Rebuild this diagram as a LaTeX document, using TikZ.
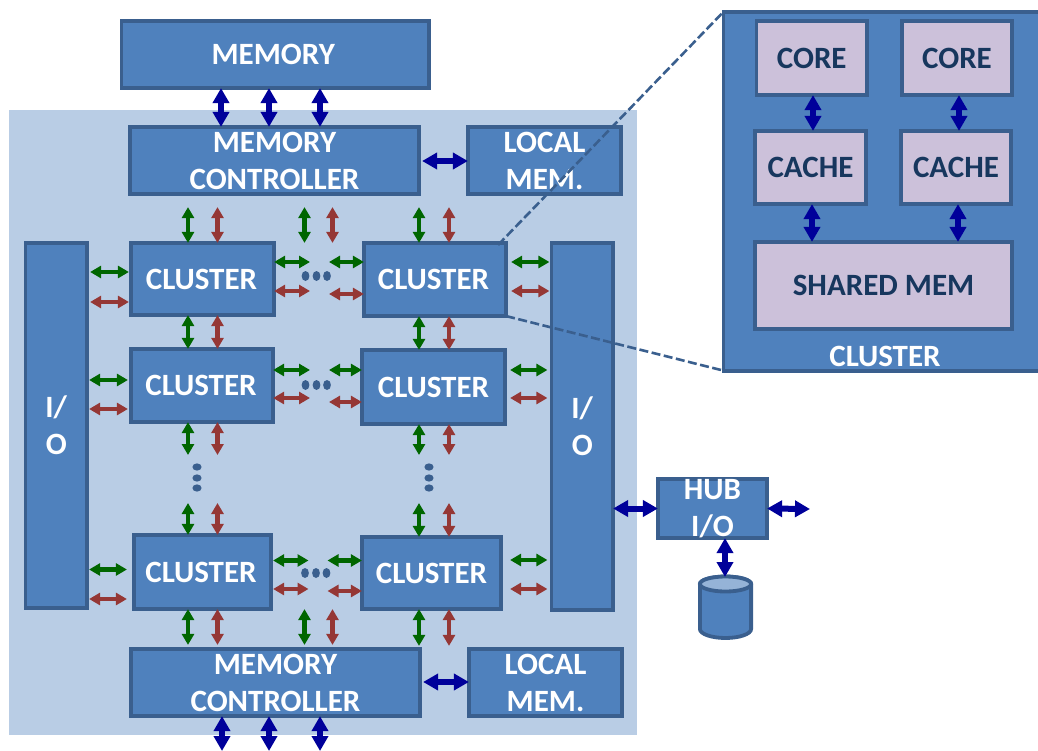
\documentclass[tikz,border=0pt]{standalone}
\usepackage{fontspec}
\setmainfont{Carlito}
\usetikzlibrary{arrows.meta}
\definecolor{boxfill}{HTML}{4F81BD}
\definecolor{boxline}{HTML}{3A5F8E}
\definecolor{panelbg}{HTML}{B9CDE5}
\definecolor{corefill}{HTML}{CCC1DA}
\definecolor{coretext}{HTML}{17375E}
\definecolor{arrblue}{HTML}{00009A}
\definecolor{arrgreen}{HTML}{006600}
\definecolor{arrred}{HTML}{953735}
\definecolor{disktop}{HTML}{95B3D7}
\newcommand{\bx}[6][plainbox]{%
  \pgfmathsetmacro{\cxx}{(#3+#5)/2}\pgfmathsetmacro{\cyy}{(#4+#6)/2}%
  \pgfmathsetmacro{\ww}{#5-#3-3.8}\pgfmathsetmacro{\hh}{#6-#4-3.8}%
  \node[#1,minimum width=\ww pt,minimum height=\hh pt] (#2) at (\cxx,\cyy) {\boxtext};}
\newcommand{\rowdots}[2]{\foreach \dx in {-11,0,10.5}{\fill[boxline] ({#1+\dx},#2) ellipse [x radius=3.9,y radius=5];}}
\newcommand{\coldots}[2]{\foreach \dy in {-11,0,10}{\fill[boxline] (#1,{#2+\dy}) ellipse [x radius=4.6,y radius=3.6];}}
\tikzset{
  plainbox/.style={rectangle,draw=boxline,fill=boxfill,line width=3.8pt,outer sep=0pt,inner sep=0pt,
    text=white,font=\fontsize{31}{37}\selectfont\bfseries,align=center},
  corebox/.style={plainbox,fill=corefill,text=coretext},
  bl/.style={{Triangle[width=16pt,length=15pt]}-{Triangle[width=16pt,length=15pt]},draw=arrblue,fill=arrblue,line width=6pt},
  gr/.style={{Triangle[width=12pt,length=11pt]}-{Triangle[width=12pt,length=11pt]},draw=arrgreen,fill=arrgreen,line width=4.5pt},
  rd/.style={{Triangle[width=12pt,length=11pt]}-{Triangle[width=12pt,length=11pt]},draw=arrred,fill=arrred,line width=4.5pt},
  zoomline/.style={draw=boxline,line width=2.6pt,dash pattern=on 9pt off 3.5pt},
  gapnode/.style={rectangle,inner sep=0pt,outer sep=0pt,minimum width=19pt,minimum height=40pt},
  vgap/.style={rectangle,inner sep=0pt,outer sep=0pt,minimum width=30pt,minimum height=48pt}
}
\begin{document}
\begin{tikzpicture}[x=1pt,y=-1pt]
\useasboundingbox (0,0) rectangle (1038,751);
\clip (0,0) rectangle (1038,751);
\node[rectangle,fill=panelbg,inner sep=0pt,outer sep=0pt,minimum width=628pt,minimum height=625pt] (bg) at (323,422.5) {};
% main boxes
\def\boxtext{\hspace*{-4pt}MEMORY}\bx{mem}{119.5}{19}{431}{90}
\def\boxtext{MEMORY\\CONTROLLER}\bx{mca}{128}{125}{421}{196}
\def\boxtext{LOCAL\\MEM.}\bx{lma}{466}{125}{623}{196}
\def\boxtext{MEMORY\\CONTROLLER}\bx{mcb}{129}{647}{422}{718}
\def\boxtext{LOCAL\\MEM.}\bx{lmb}{467}{647}{624}{718}
\def\boxtext{I/\\O}\bx{iol}{23.5}{241}{89}{610}
\def\boxtext{I/\\O}\bx{ior}{549.5}{241}{615}{612}
\def\boxtext{\hspace*{-2pt}CLUSTER}
\bx{caa}{129}{241}{276}{317}
\bx{cba}{129}{347}{275}{424}
\def\boxtext{\hspace*{-3pt}CLUSTER}
\bx{cab}{362}{241}{508}{318}
\bx{cca}{132}{533}{273}{611}
\def\boxtext{CLUSTER}
\bx{cbb}{360}{348}{507}{426}
\bx{ccb}{360}{535}{503}{611}
\def\boxtext{HUB\\I/O}\bx{hub}{656}{477}{769}{540}
% storage cylinder
\fill[boxfill,draw=boxline,line width=3.8pt] (699.9,584) -- (699.9,629) arc [start angle=180,end angle=360,x radius=25.6pt,y radius=9pt] -- (751.1,584) arc [start angle=0,end angle=180,x radius=25.6pt,y radius=7.5pt] -- cycle;
\fill[disktop,draw=boxline,line width=3.8pt] (725.5,584) ellipse [x radius=25.6pt,y radius=7.5pt];
\coordinate (disk) at (725,577);
% zoomed cluster
\def\boxtext{}\bx{zoom}{721.5}{10}{1045}{372.5}
\node[text=white,font=\fontsize{31}{37}\selectfont\bfseries] (zlabel) at (885,356) {CLUSTER};
\def\boxtext{CORE}
\bx[corebox]{coa}{754.5}{19}{869}{97}
\bx[corebox]{cob}{900}{19}{1014}{97}
\def\boxtext{CACHE}
\bx[corebox]{cha}{753}{129}{868}{206}
\bx[corebox]{chb}{899}{129}{1013}{206}
\def\boxtext{SHARED MEM}
\bx[corebox]{shm}{753}{240}{1014}{331}
% free ends
\node[gapnode] (gapa) at (319.5,276) {};
\node[gapnode] (gapb) at (319.5,385) {};
\node[gapnode] (gapc) at (318,574) {};
\node[vgap] (vgapl) at (197,479) {};
\node[vgap] (vgapr) at (429,479) {};
\coordinate (hubout) at (810,509);
\coordinate (botA) at (222,751);
\coordinate (botB) at (269,751);
\coordinate (botC) at (320,751);
\rowdots{316.5}{276}
\rowdots{316.5}{385}
\rowdots{316}{573}
\coldots{197}{478}
\coldots{429}{478}
% blue connectors
\foreach \X in {221,269,320}{\draw[bl] (\X,0 |- mem.south) -- (\X,0 |- mca.north);}
\draw[bl,shorten <=3pt] (mca.east |- 0,161) -- (lma.west |- 0,161);
\draw[bl,shorten <=3pt] (mcb.east |- 0,682) -- (lmb.west |- 0,682);
\draw[bl] (222,0 |- mcb.south) -- (botA);
\draw[bl] (269,0 |- mcb.south) -- (botB);
\draw[bl] (320,0 |- mcb.south) -- (botC);
\draw[bl] (ior.east |- hub.west) -- (hub.west);
\draw[bl] (hub.east) -- (hubout);
\draw[bl] (725,0 |- hub.south) -- (disk);
\draw[bl] (813,0 |- coa.south) -- (813,0 |- cha.north);
\draw[bl] (959,0 |- cob.south) -- (959,0 |- chb.north);
\draw[bl] (812,0 |- cha.south) -- (812,0 |- shm.north);
\draw[bl] (958,0 |- chb.south) -- (958,0 |- shm.north);
% vertical green / red
\foreach \X/\S in {188/gr,217.5/rd}{
  \draw[\S,shorten <=13pt] (\X,0 |- mca.south) -- (\X,0 |- caa.north);
  \draw[\S] (\X,0 |- caa.south) -- (\X,0 |- cba.north);
  \draw[\S] (\X,0 |- cba.south) -- (\X,0 |- vgapl.north);
  \draw[\S] (\X,0 |- vgapl.south) -- (\X,0 |- cca.north);
  \draw[\S,shorten >=4pt] (\X,0 |- cca.south) -- (\X,0 |- mcb.north);
}
\foreach \X/\S in {419/gr,449/rd}{
  \draw[\S,shorten <=13pt] (\X,0 |- mca.south) -- (\X,0 |- cab.north);
  \draw[\S] (\X,0 |- cab.south) -- (\X,0 |- cbb.north);
  \draw[\S] (\X,0 |- cbb.south) -- (\X,0 |- vgapr.north);
  \draw[\S] (\X,0 |- vgapr.south) -- (\X,0 |- ccb.north);
  \draw[\S,shorten >=3pt] (\X,0 |- ccb.south) -- (\X,0 |- mcb.north);
}
\foreach \X/\S in {304.5/gr,332.5/rd}{
  \draw[\S,shorten <=13pt] (\X,0 |- mca.south) -- (\X,0 |- cab.north);
  \draw[\S,shorten >=4pt] (\X,0 |- cca.south) -- (\X,0 |- mcb.north);
}
% horizontal: left I/O to first column
\foreach \Y/\S in {272/gr,302/rd}{\draw[\S,shorten <=3pt,shorten >=2pt] (iol.east |- 0,\Y) -- (caa.west |- 0,\Y);}
\foreach \Y/\S in {380/gr,409/rd}{\draw[\S,shorten <=2pt,shorten >=3pt] (iol.east |- 0,\Y) -- (cba.west |- 0,\Y);}
\foreach \Y/\S in {569.5/gr,599/rd}{\draw[\S,shorten <=2pt,shorten >=7pt] (iol.east |- 0,\Y) -- (cca.west |- 0,\Y);}
% horizontal: first column to gap
\draw[gr] (caa.east |- 0,262) -- (gapa.west |- 0,262);
\draw[rd] (caa.east |- 0,291) -- (gapa.west |- 0,291);
\draw[gr] (cba.east |- 0,370) -- (gapb.west |- 0,370);
\draw[rd] (cba.east |- 0,398) -- (gapb.west |- 0,398);
\draw[gr,shorten <=2pt] (cca.east |- 0,560.5) -- (gapc.west |- 0,560.5);
\draw[rd,shorten <=2pt] (cca.east |- 0,589) -- (gapc.west |- 0,589);
% horizontal: gap to second column
\draw[gr] (gapa.east |- 0,262) -- (cab.west |- 0,262);
\draw[rd] (gapa.east |- 0,294) -- (cab.west |- 0,294);
\draw[gr] (gapb.east |- 0,370) -- (cbb.west |- 0,370);
\draw[rd] (gapb.east |- 0,402) -- (cbb.west |- 0,402);
\draw[gr] (gapc.east |- 0,560.5) -- (ccb.west |- 0,560.5);
\draw[rd] (gapc.east |- 0,591) -- (ccb.west |- 0,591);
% horizontal: second column to right I/O
\foreach \Y/\S in {262/gr,291/rd}{\draw[\S,shorten <=5pt,shorten >=2pt] (cab.east |- 0,\Y) -- (ior.west |- 0,\Y);}
\foreach \Y/\S in {370/gr,398/rd}{\draw[\S,shorten <=5pt,shorten >=4pt] (cbb.east |- 0,\Y) -- (ior.west |- 0,\Y);}
\foreach \Y/\S in {560/gr,589/rd}{\draw[\S,shorten <=9pt,shorten >=4pt] (ccb.east |- 0,\Y) -- (ior.west |- 0,\Y);}
% zoom guide lines
\draw[zoomline] (cab.north east) ++(-8,2) -- (zoom.north west);
\draw[zoomline] (cab.south east) -- (zoom.south west);
\end{tikzpicture}
\end{document}
